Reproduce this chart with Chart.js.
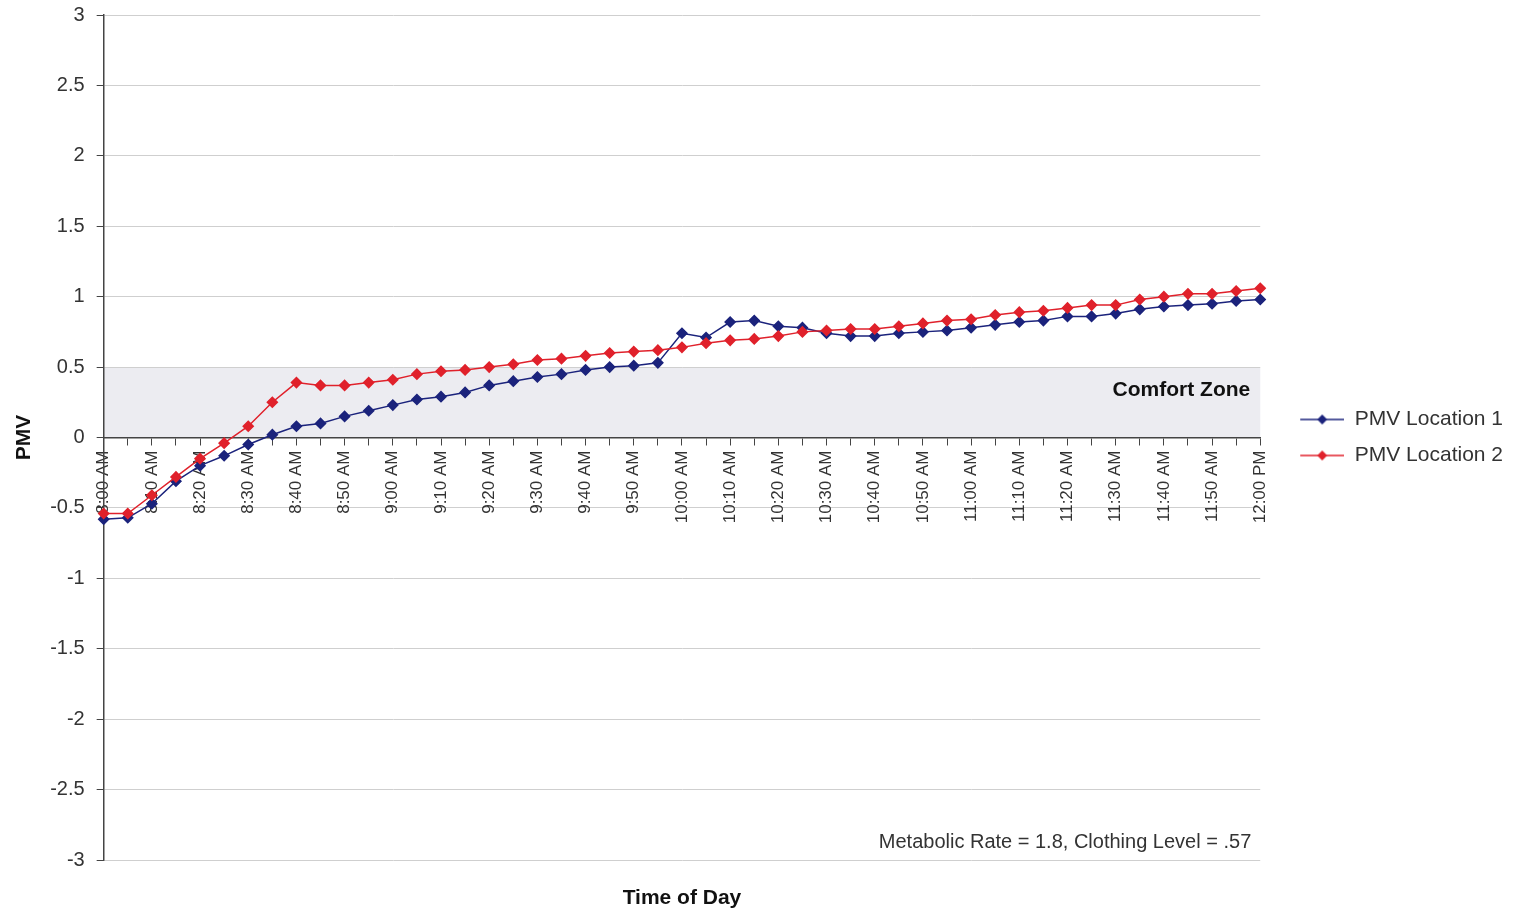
<!DOCTYPE html>
<html>
<head>
<meta charset="utf-8">
<title>PMV</title>
<script src="https://cdn.jsdelivr.net/npm/chart.js@4.4.1/dist/chart.umd.min.js"></script>
<style>
  html, body { margin: 0; padding: 0; background: #fff; }
</style>
</head>
<body>
<canvas id="chart" width="1513" height="910"></canvas>
<script>
const times = [
  '8:00 AM', '8:05 AM', '8:10 AM', '8:15 AM', '8:20 AM', '8:25 AM', '8:30 AM', '8:35 AM', '8:40 AM', '8:45 AM', '8:50 AM', '8:55 AM',
  '9:00 AM', '9:05 AM', '9:10 AM', '9:15 AM', '9:20 AM', '9:25 AM', '9:30 AM', '9:35 AM', '9:40 AM', '9:45 AM', '9:50 AM', '9:55 AM',
  '10:00 AM', '10:05 AM', '10:10 AM', '10:15 AM', '10:20 AM', '10:25 AM', '10:30 AM', '10:35 AM', '10:40 AM', '10:45 AM', '10:50 AM', '10:55 AM',
  '11:00 AM', '11:05 AM', '11:10 AM', '11:15 AM', '11:20 AM', '11:25 AM', '11:30 AM', '11:35 AM', '11:40 AM', '11:45 AM', '11:50 AM', '11:55 AM',
  '12:00 PM'
]

const pmvLocation1 = [
  -0.58, -0.57, -0.47, -0.31, -0.20, -0.13, -0.05, 0.02, 0.08, 0.10, 0.15, 0.19,
  0.23, 0.27, 0.29, 0.32, 0.37, 0.40, 0.43, 0.45, 0.48, 0.50, 0.51, 0.53,
  0.74, 0.71, 0.82, 0.83, 0.79, 0.78, 0.74, 0.72, 0.72, 0.74, 0.75, 0.76,
  0.78, 0.80, 0.82, 0.83, 0.86, 0.86, 0.88, 0.91, 0.93, 0.94, 0.95, 0.97,
  0.98
]

const pmvLocation2 = [
  -0.54, -0.54, -0.41, -0.28, -0.15, -0.04, 0.08, 0.25, 0.39, 0.37, 0.37, 0.39,
  0.41, 0.45, 0.47, 0.48, 0.50, 0.52, 0.55, 0.56, 0.58, 0.60, 0.61, 0.62,
  0.64, 0.67, 0.69, 0.70, 0.72, 0.75, 0.76, 0.77, 0.77, 0.79, 0.81, 0.83,
  0.84, 0.87, 0.89, 0.90, 0.92, 0.94, 0.94, 0.98, 1.00, 1.02, 1.02, 1.04,
  1.06
]

const pmvRange = [-3, 3]
const pmvStep = 0.5
const comfortZone = [0, 0.5]
const note = 'Metabolic Rate = 1.8, Clothing Level = .57'

const blue = '#1b237c'
const red = '#e0212b'

Chart.defaults.font.family = "'Liberation Sans', Arial, sans-serif"

// legend icon: short line with a diamond, with some empty room on the left
const legendIcon = (color) => {
  const c = document.createElement('canvas')
  c.width = 69
  c.height = 12
  const g = c.getContext('2d')
  g.strokeStyle = color
  g.lineWidth = 1.5
  g.beginPath()
  g.moveTo(25, 6)
  g.lineTo(69, 6)
  g.stroke()
  g.fillStyle = color
  g.beginPath()
  g.moveTo(47, 1)
  g.lineTo(52, 6)
  g.lineTo(47, 11)
  g.lineTo(42, 6)
  g.closePath()
  g.fill()
  return c
}
const icons = [legendIcon(blue), legendIcon(red)]

const extras = {
  id: 'extras',
  beforeDraw: (chart) => {
    const { ctx, chartArea, scales: { y } } = chart
    ctx.save()
    ctx.fillStyle = '#fff'
    ctx.fillRect(0, 0, chart.width, chart.height)
    const top = y.getPixelForValue(comfortZone[1])
    const bottom = y.getPixelForValue(comfortZone[0])
    ctx.fillStyle = '#ececf1'
    ctx.fillRect(chartArea.left, top, chartArea.right - chartArea.left, bottom - top)
    ctx.restore()
  },
  afterDraw: (chart) => {
    const { ctx, chartArea, scales: { y } } = chart
    ctx.save()
    ctx.fillStyle = '#111'
    ctx.font = "bold 21px 'Liberation Sans', Arial, sans-serif"
    ctx.textAlign = 'right'
    ctx.textBaseline = 'middle'
    ctx.fillText('Comfort Zone', chartArea.right - 10, y.getPixelForValue(0.335))
    ctx.textAlign = 'center'
    ctx.fillText('Time of Day', (chartArea.left + chartArea.right) / 2, 898)
    ctx.fillStyle = '#333'
    ctx.font = "20px 'Liberation Sans', Arial, sans-serif"
    ctx.textAlign = 'right'
    ctx.textBaseline = 'alphabetic'
    ctx.fillText(note, chartArea.right - 9, 848)
    ctx.restore()
  }
}

const ctx = document.getElementById('chart')

const chart = new Chart(ctx, {
  type: 'line',
  data: {
    labels: times,
    datasets: [{
      label: 'PMV Location 1',
      data: pmvLocation1,
      borderColor: blue,
      backgroundColor: blue,
      borderWidth: 1.5,
      pointStyle: 'rectRot',
      pointRadius: 5,
      order: 1
    }, {
      label: 'PMV Location 2',
      data: pmvLocation2,
      borderColor: red,
      backgroundColor: red,
      borderWidth: 1.5,
      pointStyle: 'rectRot',
      pointRadius: 5,
      order: 0
    }]
  },
  options: {
    responsive: false,
    animation: false,
    layout: {
      padding: { top: 15, bottom: 50, left: 0, right: 0 }
    },
    plugins: {
      tooltip: { enabled: false },
      legend: {
        position: 'right',
        labels: {
          usePointStyle: true,
          pointStyleWidth: 69,
          padding: 15,
          color: '#333',
          font: { size: 21 },
          sort: (a, b) => a.datasetIndex - b.datasetIndex,
          generateLabels: (chart) => Chart.defaults.plugins.legend.labels.generateLabels(chart)
            .map(item => ({ ...item, pointStyle: icons[item.datasetIndex] }))
        }
      }
    },
    scales: {
      x: {
        position: { y: 0 },
        offset: false,
        border: { color: '#444', width: 1.5 },
        grid: { drawOnChartArea: false, tickLength: 7, tickColor: '#444' },
        ticks: {
          autoSkip: false,
          minRotation: 90,
          maxRotation: 90,
          padding: 6,
          color: '#333',
          font: { size: 17 },
          callback: (value, index) => index % 2 === 0 ? times[index] : ''
        },
        afterFit: (scale) => {
          scale.paddingLeft = 0
          scale.paddingRight = 0
          scale.paddingTop = 0
          scale.paddingBottom = 0
        }
      },
      y: {
        min: pmvRange[0],
        max: pmvRange[1],
        border: { color: '#444', width: 1.5 },
        grid: { color: '#cfcfcf', tickLength: 7, tickColor: '#444' },
        ticks: {
          stepSize: pmvStep,
          padding: 12,
          color: '#333',
          font: { size: 20 },
          callback: (value) => String(value)
        },
        title: {
          display: true,
          text: 'PMV',
          color: '#111',
          font: { size: 21, weight: 'bold' },
          padding: { top: 12, bottom: 1 }
        },
        afterFit: (scale) => {
          scale.paddingTop = 0
          scale.paddingBottom = 0
        }
      }
    }
  },
  plugins: [extras]
});
</script>
</body>
</html>
